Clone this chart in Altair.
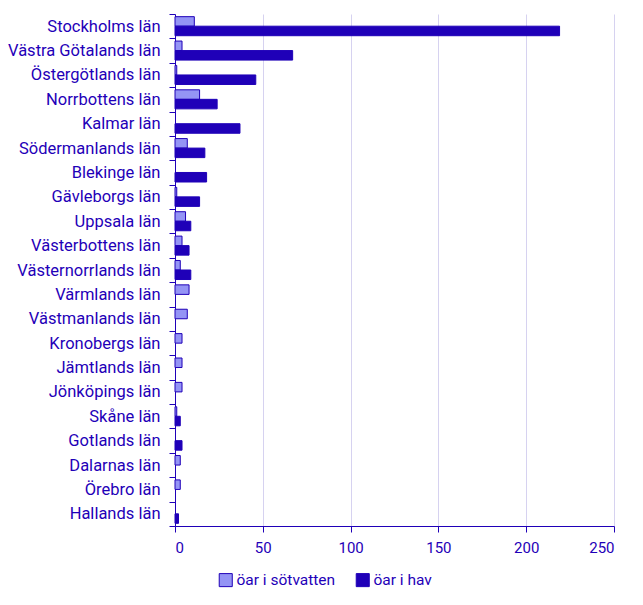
import altair as alt
import pandas as pd

counties = [
    "Stockholms län", "Västra Götalands län", "Östergötlands län", "Norrbottens län",
    "Kalmar län", "Södermanlands län", "Blekinge län", "Gävleborgs län",
    "Uppsala län", "Västerbottens län", "Västernorrlands län", "Värmlands län",
    "Västmanlands län", "Kronobergs län", "Jämtlands län", "Jönköpings län",
    "Skåne län", "Gotlands län", "Dalarnas län", "Örebro län", "Hallands län",
]
freshwater = [11, 4, 1, 14, 0, 7, 0, 1, 6, 4, 3, 8, 7, 4, 4, 4, 1, 0, 3, 3, 0]
sea = [219, 67, 46, 24, 37, 17, 18, 14, 9, 8, 9, 0, 0, 0, 0, 0, 3, 4, 0, 0, 2]
series = ["öar i sötvatten", "öar i hav"]

TEXT = "#1f00b8"
FONT = "Roboto"

source = pd.DataFrame(
    {"county": counties * 2,
     "type": [series[0]] * len(counties) + [series[1]] * len(counties),
     "value": freshwater + sea}
)

chart = (
    alt.Chart(source)
    .transform_filter("datum.value > 0")
    .mark_bar(stroke=TEXT, strokeWidth=1)
    .encode(
        x=alt.X(
            "value:Q",
            title=None,
            scale=alt.Scale(domain=[0, 250], nice=False),
            axis=alt.Axis(values=[0, 50, 100, 150, 200, 250], grid=True,
                          gridColor="#d6d2f0", domainColor=TEXT, tickColor=TEXT,
                          tickSize=6, labelPadding=8, labelFontSize=15),
        ),
        y=alt.Y(
            "county:N",
            sort=counties,
            title=None,
            scale=alt.Scale(paddingInner=0, paddingOuter=0),
            axis=alt.Axis(tickBand="extent", domainColor=TEXT, tickColor=TEXT,
                          tickSize=6, labelPadding=9, grid=False,
                          labelFontSize=16.5),
        ),
        yOffset=alt.YOffset("type:N", sort=series,
                            scale=alt.Scale(paddingInner=0, paddingOuter=0.28)),
        color=alt.Color(
            "type:N",
            sort=series,
            scale=alt.Scale(domain=series, range=["#9494f5", "#1f00b8"]),
            legend=alt.Legend(title=None, orient="none", direction="horizontal",
                              legendX=43, legendY=558, symbolType="square",
                              symbolSize=170, symbolStrokeColor=TEXT,
                              symbolStrokeWidth=1, columnPadding=18,
                              labelOffset=3),
        ),
    )
    .properties(
        width=439,
        height=512,
        autosize=alt.AutoSizeParams(type="none"),
        padding={"left": 167, "top": 6, "right": 20, "bottom": 70},
    )
    .configure_view(stroke=None)
    .configure_axis(labelFont=FONT, labelColor=TEXT)
    .configure_legend(labelFont=FONT, labelFontSize=15.5, labelColor=TEXT)
)

chart.save("out.html", embed_options={"renderer": "svg", "actions": False})
